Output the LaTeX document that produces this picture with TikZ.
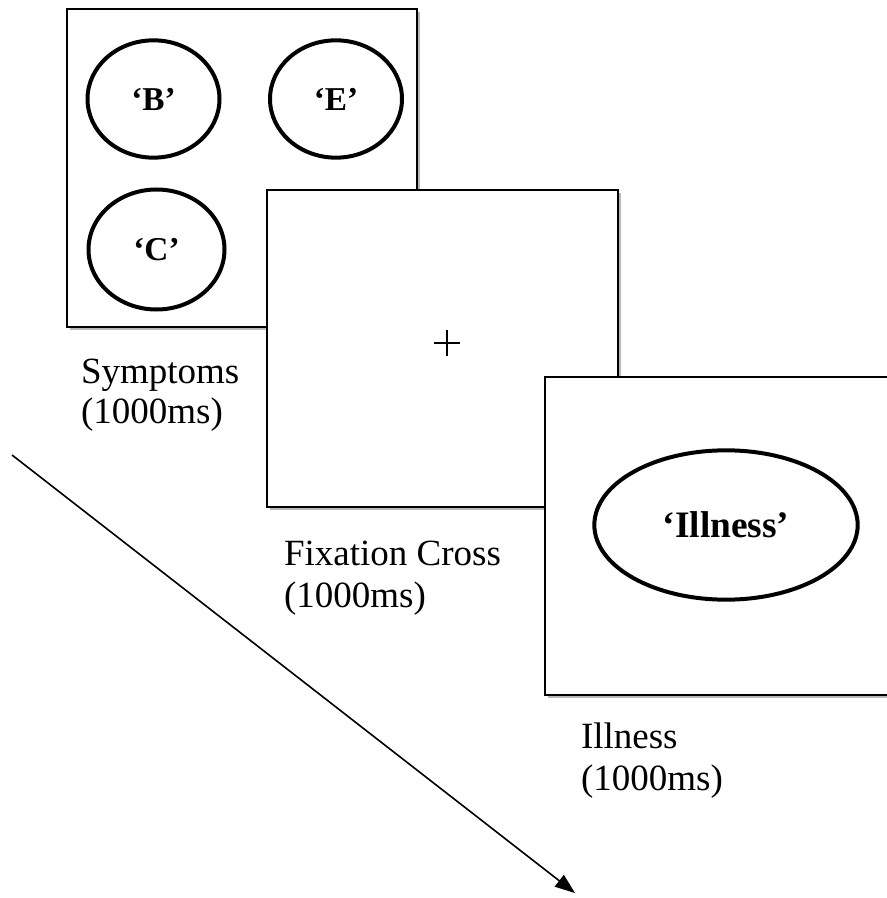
\documentclass[tikz,border=0pt]{standalone}
\usepackage{fontspec}
\setmainfont{Liberation Serif}
\usetikzlibrary{shapes.geometric,arrows.meta,shadows}
\tikzset{
  screen/.style={draw=black, line width=2.1pt, fill=white, rectangle, inner sep=0pt, outer sep=0pt,
    drop shadow={shadow xshift=2.4pt, shadow yshift=-2.4pt, fill=black!28, opacity=1}},
  stim/.style={draw=black, line width=3pt, fill=white, ellipse, inner sep=0pt, outer sep=0pt,
    font=\fontsize{25}{29}\selectfont\bfseries},
  bigstim/.style={stim, font=\fontsize{28}{32}\selectfont\bfseries},
  lbl/.style={anchor=base west, inner sep=0pt, outer sep=0pt, font=\fontsize{27.75}{31}\selectfont},
  timearrow/.style={line width=1.2pt, -{Triangle[length=15pt, width=11pt]}},
  crossline/.style={line width=1.1pt}
}
\begin{document}
\begin{tikzpicture}[x=0.75pt, y=-0.75pt]
\useasboundingbox (0,0) rectangle (887,898);
\clip (0,0) rectangle (887,898);
% screen 1: symptoms
\node[screen, minimum width=262.5pt, minimum height=238.5pt] (s1) at (242,168) {};
\node[stim, minimum width=99pt, minimum height=88pt] (eb) at (153.5,99) {‘B’};
\node[stim, minimum width=99pt, minimum height=88pt] (ee) at (336,99) {‘E’};
\node[stim, minimum width=102pt, minimum height=90pt] (ec) at (156.5,249.5) {‘C’};
% screen 2: fixation
\node[screen, minimum width=263.25pt, minimum height=237.75pt] (s2) at (442.5,348.5) {};
\coordinate (cross) at (447,343);
\draw[crossline] ([xshift=-9.75pt]cross) -- ([xshift=9.75pt]cross);
\draw[crossline] ([yshift=-9.75pt]cross) -- ([yshift=9.75pt]cross);
% screen 3: illness
\node[screen, minimum width=266.25pt, minimum height=238.5pt] (s3) at (722.5,536) {};
\node[bigstim, minimum width=197.5pt, minimum height=112pt] (ei) at (726,525) {‘Illness’};
% labels
\node[lbl] (l1a) at (81,383) {Symptoms};
\node[lbl] (l1b) at (81,423) {(1000ms)};
\node[lbl] (l2a) at (284,565) {Fixation Cross};
\node[lbl] (l2b) at (284,607) {(1000ms)};
\node[lbl] (l3a) at (581,748) {Illness};
\node[lbl] (l3b) at (581,790) {(1000ms)};
% time arrow
\coordinate (tstart) at (12,455);
\coordinate (tend) at (575,893);
\draw[timearrow] (tstart) -- (tend);
\end{tikzpicture}
\end{document}
